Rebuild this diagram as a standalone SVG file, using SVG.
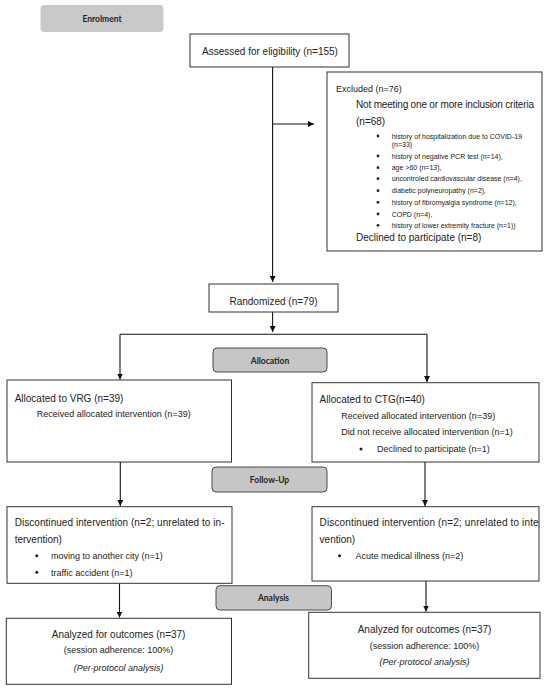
<svg xmlns="http://www.w3.org/2000/svg" width="550" height="692" viewBox="0 0 550 692">
<style>
.bg{fill:#ffffff}
.box{fill:#ffffff;stroke:#333333;stroke-width:1}
.stage{fill:#c6c6c6;stroke:#4a4a4a;stroke-width:1}
.stage0{fill:#c9c9c9;stroke:none}
.t{font-family:"Liberation Sans",Arial,sans-serif;fill:#222222}
.m{font-size:10px}
.s{font-size:9px}
.xs{font-size:7px}
.lab{font-family:Lato,"Open Sans",sans-serif;font-weight:bold;font-size:8.5px;fill:#222222;text-anchor:middle}
.c{text-anchor:middle}
.conn{stroke:#111111;stroke-width:1.1;fill:none}
.dot{fill:#222222}
</style>
<defs>
<marker id="ah" markerUnits="userSpaceOnUse" markerWidth="7" markerHeight="6" refX="6" refY="3" orient="auto">
<path d="M0,0 L6,3 L0,6 z" fill="#111111"/>
</marker>
<clipPath id="clipR"><rect x="312" y="507" width="227" height="74"/></clipPath>
</defs>
<rect class="bg" x="0" y="0" width="550" height="692"/>

<g id="connectors">
<path class="conn" d="M272.6,67 V282" marker-end="url(#ah)"/>
<path class="conn" d="M272.6,124 H314" marker-end="url(#ah)"/>
<path class="conn" d="M272.6,312 V332" marker-end="url(#ah)"/>
<path class="conn" d="M120,334.3 H427"/>
<path class="conn" d="M120,334.3 V379.5" marker-end="url(#ah)"/>
<path class="conn" d="M427,334.3 V382" marker-end="url(#ah)"/>
<path class="conn" d="M120.3,462 V506" marker-end="url(#ah)"/>
<path class="conn" d="M425,462 V506" marker-end="url(#ah)"/>
<path class="conn" d="M119.5,583.3 V617.5" marker-end="url(#ah)"/>
<path class="conn" d="M426,581 V611.5" marker-end="url(#ah)"/>
</g>

<g id="enrolment">
<rect class="stage0" x="40.5" y="5" width="123" height="27" rx="4"/>
<text class="lab" x="102" y="21.5">Enrolment</text>
</g>

<g id="assessed">
<rect class="box" x="190" y="34" width="159" height="33"/>
<text class="t m" x="202" y="55">Assessed for eligibility (n=155)</text>
</g>

<g id="excluded">
<rect class="box" x="327" y="72" width="215" height="179"/>
<text class="t s" x="336" y="92">Excluded (n=76)</text>
<text class="t m" x="356" y="108" textLength="178" lengthAdjust="spacing">Not meeting one or more inclusion criteria</text>
<text class="t m" x="356" y="124.5">(n=68)</text>
<g class="dot">
<circle cx="378" cy="136" r="1.4"/>
<circle cx="378" cy="156" r="1.4"/>
<circle cx="378" cy="167.7" r="1.4"/>
<circle cx="378" cy="178.7" r="1.4"/>
<circle cx="378" cy="190.7" r="1.4"/>
<circle cx="378" cy="202.3" r="1.4"/>
<circle cx="378" cy="214" r="1.4"/>
<circle cx="378" cy="225.3" r="1.4"/>
</g>
<text class="t xs" x="391.7" y="138.5">history of hospitalization due to COVID-19</text>
<text class="t xs" x="391.7" y="147">(n=33)</text>
<text class="t xs" x="391.7" y="158.5">history of negative PCR test (n=14),</text>
<text class="t xs" x="391.7" y="170.2">age &gt;60 (n=13),</text>
<text class="t xs" x="391.7" y="181.2">uncontroled cardiovascular disease (n=4),</text>
<text class="t xs" x="391.7" y="193.2">diabetic polyneuropathy (n=2),</text>
<text class="t xs" x="391.7" y="204.8">history of fibromyalgia syndrome (n=12),</text>
<text class="t xs" x="391.7" y="216.5">COPD (n=4),</text>
<text class="t xs" x="391.7" y="227.8">history of lower extremity fracture (n=1))</text>
<text class="t m" x="356" y="241">Declined to participate (n=8)</text>
</g>

<g id="randomized">
<rect class="box" x="209" y="284" width="129" height="28"/>
<text class="t m c" x="273.5" y="304.5">Randomized (n=79)</text>
</g>

<g id="allocation">
<rect class="stage" x="213" y="348" width="114" height="24" rx="4"/>
<text class="lab" x="270" y="363.5">Allocation</text>
</g>

<g id="vrg">
<rect class="box" x="7" y="380" width="224.5" height="82"/>
<text class="t m" x="14.7" y="402">Allocated to VRG (n=39)</text>
<text class="t s" x="36.8" y="416.5">Received allocated intervention (n=39)</text>
</g>

<g id="ctg">
<rect class="box" x="312" y="382.7" width="227" height="79.3"/>
<text class="t m" x="319.6" y="403">Allocated to CTG(n=40)</text>
<text class="t s" x="341.3" y="418.5">Received allocated intervention (n=39)</text>
<text class="t s" x="341.3" y="435">Did not receive allocated intervention (n=1)</text>
<circle class="dot" cx="361" cy="449" r="1.5"/>
<text class="t s" x="377" y="452">Declined to participate (n=1)</text>
</g>

<g id="followup">
<rect class="stage" x="212" y="467" width="115" height="25" rx="4"/>
<text class="lab" x="269.5" y="483">Follow-Up</text>
</g>

<g id="disc-left">
<rect class="box" x="7" y="506.7" width="225" height="76.6"/>
<text class="t m" x="14.7" y="525.5" textLength="209.8" lengthAdjust="spacing">Discontinued intervention (n=2; unrelated to in-</text>
<text class="t m" x="14.7" y="542.5">tervention)</text>
<circle class="dot" cx="36.8" cy="555.7" r="1.5"/>
<text class="t s" x="50.9" y="559">moving to another city (n=1)</text>
<circle class="dot" cx="36.8" cy="572.3" r="1.5"/>
<text class="t s" x="50.9" y="575.5">traffic accident (n=1)</text>
</g>

<g id="disc-right">
<rect class="box" x="312" y="506.7" width="227" height="74.3"/>
<text class="t m" x="319.6" y="525.5" textLength="219" lengthAdjust="spacing" clip-path="url(#clipR)">Discontinued intervention (n=2; unrelated to inte</text>
<text class="t m" x="319.6" y="542.5">vention)</text>
<circle class="dot" cx="339.6" cy="555.7" r="1.5"/>
<text class="t s" x="355.4" y="559">Acute medical illness (n=2)</text>
</g>

<g id="analysis">
<rect class="stage" x="216" y="585.7" width="115.5" height="24.3" rx="4"/>
<text class="lab" x="273.5" y="601">Analysis</text>
</g>

<g id="analyzed-left">
<rect class="box" x="6.3" y="618.3" width="225.2" height="66"/>
<text class="t m c" x="118.6" y="638">Analyzed for outcomes (n=37)</text>
<text class="t s c" x="118.6" y="652.5">(session adherence: 100%)</text>
<text class="t s c" x="118.6" y="670.5" font-style="italic">(Per-protocol analysis)</text>
</g>

<g id="analyzed-right">
<rect class="box" x="308.7" y="612.3" width="231.3" height="66"/>
<text class="t m c" x="424.5" y="633">Analyzed for outcomes (n=37)</text>
<text class="t s c" x="424.5" y="648.5">(session adherence: 100%)</text>
<text class="t s c" x="424.5" y="664.5" font-style="italic">(Per-protocol analysis)</text>
</g>
</svg>
